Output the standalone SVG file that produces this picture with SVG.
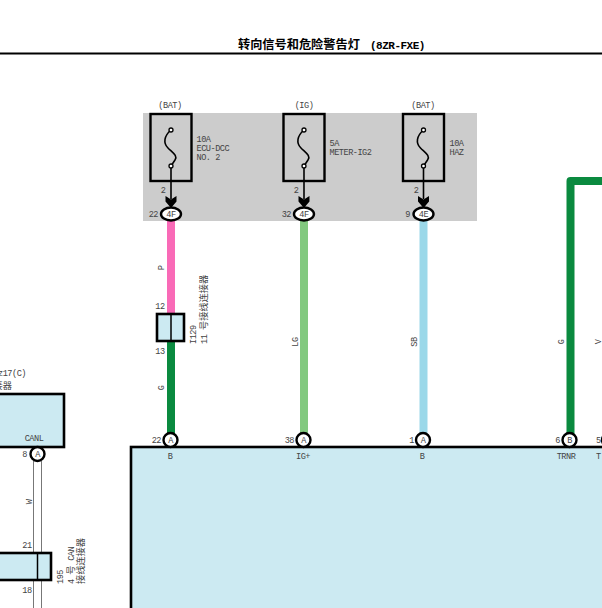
<svg xmlns="http://www.w3.org/2000/svg" width="602" height="608" viewBox="0 0 602 608">
<style>
text{font-family:"Liberation Mono","Noto Sans CJK SC",monospace;font-size:8.6px;letter-spacing:-.5px;fill:#444}
.c{font-family:"Noto Sans CJK SC",sans-serif;font-size:9.2px;letter-spacing:0}
.m{text-anchor:middle}
.e{text-anchor:end}
.box{fill:none;stroke:#000;stroke-width:2.4}
.lt{fill:#cceaf2;stroke:#000;stroke-width:2.6}
.pin{fill:#fff;stroke:#000;stroke-width:2.4}
.sym{fill:none;stroke:#000;stroke-width:1.6}
.dot{fill:#fff;stroke:#000;stroke-width:1.3}
.w{fill:none;stroke-width:8}
.thin{fill:none;stroke:#777;stroke-width:1}
</style>
<defs>
<g id="fuse">
<rect class="box" x="-20.500" y="-91" width="41" height="67"/>
<path class="sym" d="M0-75C-7-69-8-62-3-57C2-52 7-49 4-45L0-39"/>
<circle class="dot" cx="0" cy="-75" r="2"/>
<circle class="dot" cx="0" cy="-39" r="2"/>
<path class="sym" d="M0-37V-6"/>
<path d="M-5.500-9L0-5.500L5.500-9V-3.500L0 3L-5.500-3.500Z" fill="#000"/>
</g>
</defs>
<rect width="602" height="608" fill="#fff"/>
<g id="title">
<text x="238" y="49" style="font-size:11px;font-weight:700;fill:#000"><tspan style="font-family:'Noto Sans CJK SC',sans-serif;font-size:12.200px;font-weight:700;fill:#000;letter-spacing:0">转向信号和危险警告灯</tspan><tspan x="370">(8ZR-FXE)</tspan></text>
<path d="M0 53.500H602" stroke="#000" stroke-width="2"/>
</g>
<rect id="fuse-block" x="143" y="113" width="334" height="108" fill="#ccc"/>
<g id="connectors">
<path class="w" stroke="#f96ab7" d="M171 221V314"/>
<path class="w" stroke="#0a8a3f" d="M171 341V434"/>
<path class="w" stroke="#82c97f" d="M304 221V434"/>
<path class="w" stroke="#9bd8e9" d="M423.500 221V434"/>
<path class="w" stroke="#0a8a3f" d="M570.500 434V181H602" stroke-linejoin="round"/>
<path class="thin" d="M33.500 461V608M41.500 461V608"/>
</g>
<g id="fuse-1">
<use href="#fuse" x="171" y="205"/>
<text x="170" y="108" class="m">(BAT)</text>
<text x="196.500" y="142">10A</text><text x="196.500" y="151">ECU-DCC</text><text x="196.500" y="160">NO. 2</text>
<text x="163" y="193" class="m">2</text>
<text x="158" y="217" class="e">22</text>
<ellipse class="pin" cx="171" cy="214" rx="10" ry="6.500"/><text x="171" y="217" class="m">4F</text>
</g>
<g id="fuse-2">
<use href="#fuse" x="304" y="205"/>
<text x="304" y="108" class="m">(IG)</text>
<text x="329.500" y="146">5A</text><text x="329.500" y="155">METER-IG2</text>
<text x="296" y="193" class="m">2</text>
<text x="291" y="217" class="e">32</text>
<ellipse class="pin" cx="304" cy="214" rx="10" ry="6.500"/><text x="304" y="217" class="m">4F</text>
</g>
<g id="fuse-3">
<use href="#fuse" x="423.500" y="205"/>
<text x="423" y="108" class="m">(BAT)</text>
<text x="449.500" y="146">10A</text><text x="449.500" y="155">HAZ</text>
<text x="416" y="193" class="m">2</text>
<text x="410" y="217" class="e">9</text>
<ellipse class="pin" cx="423.500" cy="214" rx="10" ry="6.500"/><text x="423.500" y="217" class="m">4E</text>
</g>
<g id="wire-labels">
<text transform="translate(164 268) rotate(-90)" class="m">P</text>
<text transform="translate(164 388) rotate(-90)" class="m">G</text>
<text transform="translate(298 342) rotate(-90)" class="m">LG</text>
<text transform="translate(417 342) rotate(-90)" class="m">SB</text>
<text transform="translate(564 342) rotate(-90)" class="m">G</text>
<text transform="translate(601 342) rotate(-90)" class="m">V</text>
<text transform="translate(32 502) rotate(-90)" class="m">W</text>
</g>
<g id="junction-i29">
<rect class="lt" x="157" y="314" width="27" height="27"/>
<path d="M171 314V341" stroke="#000" stroke-width="1.500"/>
<text x="160" y="309" class="m">12</text>
<text x="160" y="354" class="m">13</text>
<text transform="translate(196 344) rotate(-90)">I129</text>
<text transform="translate(207 344) rotate(-90)">11 <tspan class="c">号接线连接器</tspan></text>
</g>
<g id="left-ecu">
<rect class="lt" x="-5" y="394" width="69" height="53"/>
<text x="26" y="376" class="e">z17(C)</text>
<text x="12" y="389" class="e"><tspan class="c">连接器</tspan></text>
<text x="34" y="441" class="m">CANL</text>
<text x="27" y="457" class="e">8</text>
<circle class="pin" cx="37.500" cy="454" r="7"/><text x="37.500" y="457" class="m">A</text>
</g>
<g id="junction-195">
<rect class="lt" x="-5" y="553" width="56" height="27"/>
<path d="M37.500 553V580" stroke="#000" stroke-width="1.500"/>
<text x="27" y="548" class="m">21</text>
<text x="27" y="593" class="m">18</text>
<text transform="translate(63 584) rotate(-90)">195</text>
<text transform="translate(73.500 584) rotate(-90)">4 <tspan class="c">号</tspan> CAN</text>
<text transform="translate(84 584) rotate(-90)"><tspan class="c">接线连接器</tspan></text>
</g>
<g id="main-ecu">
<rect class="lt" x="131" y="447" width="480" height="170"/>
<circle class="pin" cx="170.500" cy="440" r="7"/><text x="170.500" y="443" class="m">A</text>
<text x="161" y="443" class="e">22</text><text x="170" y="459" class="m">B</text>
<circle class="pin" cx="303.500" cy="440" r="7"/><text x="303.500" y="443" class="m">A</text>
<text x="294" y="443" class="e">38</text><text x="303" y="459" class="m">IG+</text>
<circle class="pin" cx="423" cy="440" r="7"/><text x="423" y="443" class="m">A</text>
<text x="414" y="443" class="e">1</text><text x="422" y="459" class="m">B</text>
<circle class="pin" cx="569.500" cy="440" r="7"/><text x="569.500" y="443" class="m">B</text>
<text x="560" y="443" class="e">6</text><text x="566" y="459" class="m">TRNR</text>
<text x="596" y="443">5</text><text x="596" y="459">T</text>
<circle class="pin" cx="609" cy="440" r="7"/>
</g>
</svg>
